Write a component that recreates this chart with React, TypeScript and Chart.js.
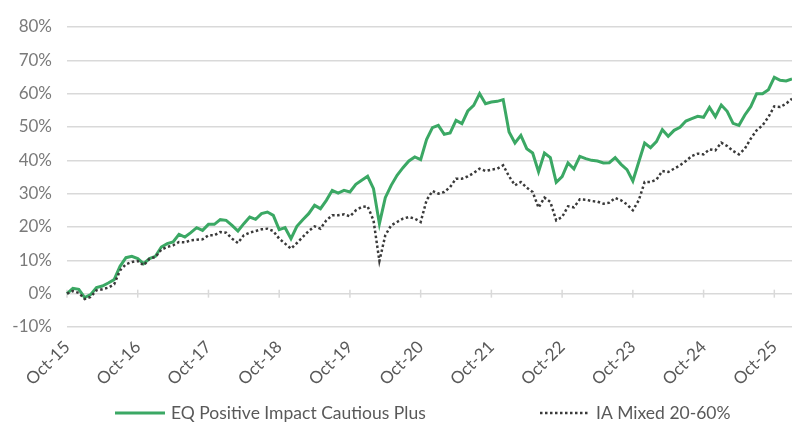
import React, { useEffect, useRef } from 'react';
import { Chart, registerables } from 'chart.js';

Chart.register(...registerables);

const FONT = "Lato, 'Open Sans', sans-serif";

const monthNames = ['Jan', 'Feb', 'Mar', 'Apr', 'May', 'Jun', 'Jul', 'Aug', 'Sep', 'Oct', 'Nov', 'Dec'];
const firstYear = 2015;
const firstMonthIndex = 9; // Oct
const monthCount = 124; // Oct-15 .. Jan-26

const categories: string[] = [];
for (let k = 0; k < monthCount; k++) {
  const m = (firstMonthIndex + k) % 12;
  const y = firstYear + Math.floor((firstMonthIndex + k) / 12);
  categories.push(`${monthNames[m]}-${String(y % 100).padStart(2, '0')}`);
}

const seriesNames = ['EQ Positive Impact Cautious Plus', 'IA Mixed 20-60%'];

const eqValues = [
  0, 1.6, 1.3, -1.2, -0.3, 1.8, 2.3, 3.2, 4.2, 8.2, 10.8, 11.2,
  10.5, 9.0, 10.5, 11.2, 14.0, 15.0, 15.5, 17.8, 17.0, 18.3, 19.8, 19.0,
  20.8, 20.8, 22.2, 22.0, 20.5, 18.8, 21.0, 23.0, 22.3, 24.0, 24.5, 23.5,
  19.2, 19.8, 16.5, 20.2, 22.2, 24.0, 26.5, 25.5, 28.0, 31.0, 30.2, 31.0,
  30.5, 32.8, 34.0, 35.2, 31.5, 21.0, 28.8, 32.5, 35.5, 37.8, 39.8, 41.0,
  40.2, 46.2, 49.8, 50.5, 47.8, 48.2, 52.0, 51.0, 54.8, 56.5, 60.0, 57.0,
  57.5, 57.7, 58.2, 48.5, 45.2, 47.5, 43.5, 42.2, 36.6, 42.2, 40.8, 33.4,
  35.1, 39.2, 37.4, 41.2, 40.5, 40.0, 39.8, 39.2, 39.3, 40.8, 38.8, 37.2,
  33.8, 39.5, 45.2, 43.8, 45.6, 49.2, 47.2, 49.0, 49.9, 51.8, 52.5, 53.2,
  52.9, 55.9, 53.1, 56.6, 54.7, 51.1, 50.5, 53.6, 56.1, 60.0, 60.0, 61.2,
  64.9, 64.0, 63.8, 64.4,
];

const iaValues = [
  0, 0.8, 0.2, -1.6, -1.0, 1.0, 1.3, 1.8, 2.8, 7.0, 8.8, 9.5,
  9.8, 8.5, 10.5, 11.0, 13.2, 14.0, 14.5, 15.5, 15.4, 16.0, 16.2, 16.3,
  17.5, 17.5, 18.5, 18.3, 16.5, 15.2, 17.5, 18.3, 18.8, 19.3, 19.5, 18.8,
  16.5, 15.0, 13.5, 15.2, 17.0, 18.8, 20.2, 19.5, 22.0, 23.5, 23.5, 23.8,
  23.2, 25.0, 26.0, 26.2, 22.0, 9.8, 17.5, 20.5, 21.5, 22.5, 23.0, 22.5,
  21.5, 28.0, 30.8, 30.0, 30.5, 32.0, 34.5, 34.5, 35.2, 36.2, 37.5, 36.8,
  37.2, 37.5, 38.5, 35.2, 32.5, 33.5, 31.8, 30.5, 25.8, 28.8, 27.5, 22.0,
  23.0, 26.2, 25.9, 28.3, 28.2, 27.8, 27.6, 27.0, 27.3, 28.7, 28.0, 26.8,
  25.0, 28.0, 33.5, 33.5, 34.2, 36.8, 36.5, 37.5, 38.5, 39.8, 41.3, 42.0,
  41.8, 43.3, 43.0, 45.3, 44.3, 42.8, 41.8, 43.5, 46.5, 49.0, 50.5, 53.0,
  56.2, 56.0, 57.0, 58.5,
];

const yMin = -10;
const yMax = 80;
const yStep = 10;

const GREEN = '#3ba864';
const DOTS = '#3a3a3a';
const GRID = '#d9d9d9';

const zeroTicksPlugin = {
  id: 'zeroTicks',
  beforeDatasetsDraw(chart: any) {
    const { ctx, scales } = chart;
    const x = scales.x;
    const y = scales.y;
    const y0 = y.getPixelForValue(0);
    ctx.save();
    ctx.strokeStyle = GRID;
    ctx.lineWidth = 1.5;
    categories.forEach((c, i) => {
      if (i % 12 !== 0) return;
      const px = x.getPixelForValue(i);
      ctx.beginPath();
      ctx.moveTo(px, y0 - 4);
      ctx.lineTo(px, y0 + 4);
      ctx.stroke();
    });
    ctx.restore();
  },
};

const legendPlugin = {
  id: 'customLegend',
  afterDraw(chart: any) {
    const { ctx } = chart;
    const yMid = 413;
    const starts = [115, 540];
    ctx.save();
    ctx.font = `17.5px ${FONT}`;
    ctx.textBaseline = 'middle';
    ctx.textAlign = 'left';
    chart.data.datasets.forEach((ds: any, i: number) => {
      const x0 = starts[i];
      ctx.beginPath();
      ctx.strokeStyle = ds.borderColor;
      ctx.lineWidth = ds.borderWidth;
      ctx.setLineDash(ds.borderDash || []);
      ctx.moveTo(x0, yMid);
      ctx.lineTo(x0 + 50, yMid);
      ctx.stroke();
      ctx.setLineDash([]);
      ctx.fillStyle = '#595959';
      ctx.fillText(ds.label, x0 + 56, yMid);
    });
    ctx.restore();
  },
};

export default function App() {
  const ref = useRef<HTMLCanvasElement | null>(null);

  useEffect(() => {
    if (!ref.current) return;
    const chart = new Chart(ref.current, {
      type: 'line',
      data: {
        labels: categories,
        datasets: [
          {
            label: seriesNames[0],
            data: eqValues,
            borderColor: GREEN,
            backgroundColor: GREEN,
            borderWidth: 3,
            pointRadius: 0,
            tension: 0,
            order: 1,
          },
          {
            label: seriesNames[1],
            data: iaValues,
            borderColor: DOTS,
            backgroundColor: DOTS,
            borderWidth: 2.5,
            borderDash: [2.5, 2.5],
            pointRadius: 0,
            tension: 0,
            order: 0,
          },
        ],
      },
      options: {
        animation: false,
        responsive: true,
        maintainAspectRatio: false,
        layout: { padding: { top: 27, left: 0, right: 0, bottom: 0 } },
        plugins: {
          legend: { display: false },
          tooltip: { enabled: false },
        },
        scales: {
          x: {
            type: 'category',
            offset: false,
            grid: { display: false, drawTicks: false },
            border: { display: false },
            ticks: {
              autoSkip: false,
              minRotation: 45,
              maxRotation: 45,
              padding: 10,
              color: '#595959',
              font: { size: 17, family: FONT },
              callback: (_v: any, i: number) => (i % 12 === 0 ? categories[i] : ''),
            },
            afterFit: (s: any) => {
              s.height = 98;
              s.paddingRight = 0;
              s.paddingLeft = 0;
            },
          },
          y: {
            min: yMin,
            max: yMax,
            grid: { color: GRID, lineWidth: 1.5, drawTicks: false },
            border: { display: false },
            ticks: {
              stepSize: yStep,
              padding: 15,
              color: '#7a7a7a',
              font: { size: 17, family: FONT },
              callback: (v: any) => `${v}%`,
            },
            afterFit: (s: any) => {
              s.width = 67;
            },
          },
        },
      },
      plugins: [zeroTicksPlugin, legendPlugin],
    });
    return () => chart.destroy();
  }, []);

  return (
    <div style={{ position: 'absolute', left: 0, top: 0, width: 792, height: 425, background: '#fff' }}>
      <canvas ref={ref} />
    </div>
  );
}
